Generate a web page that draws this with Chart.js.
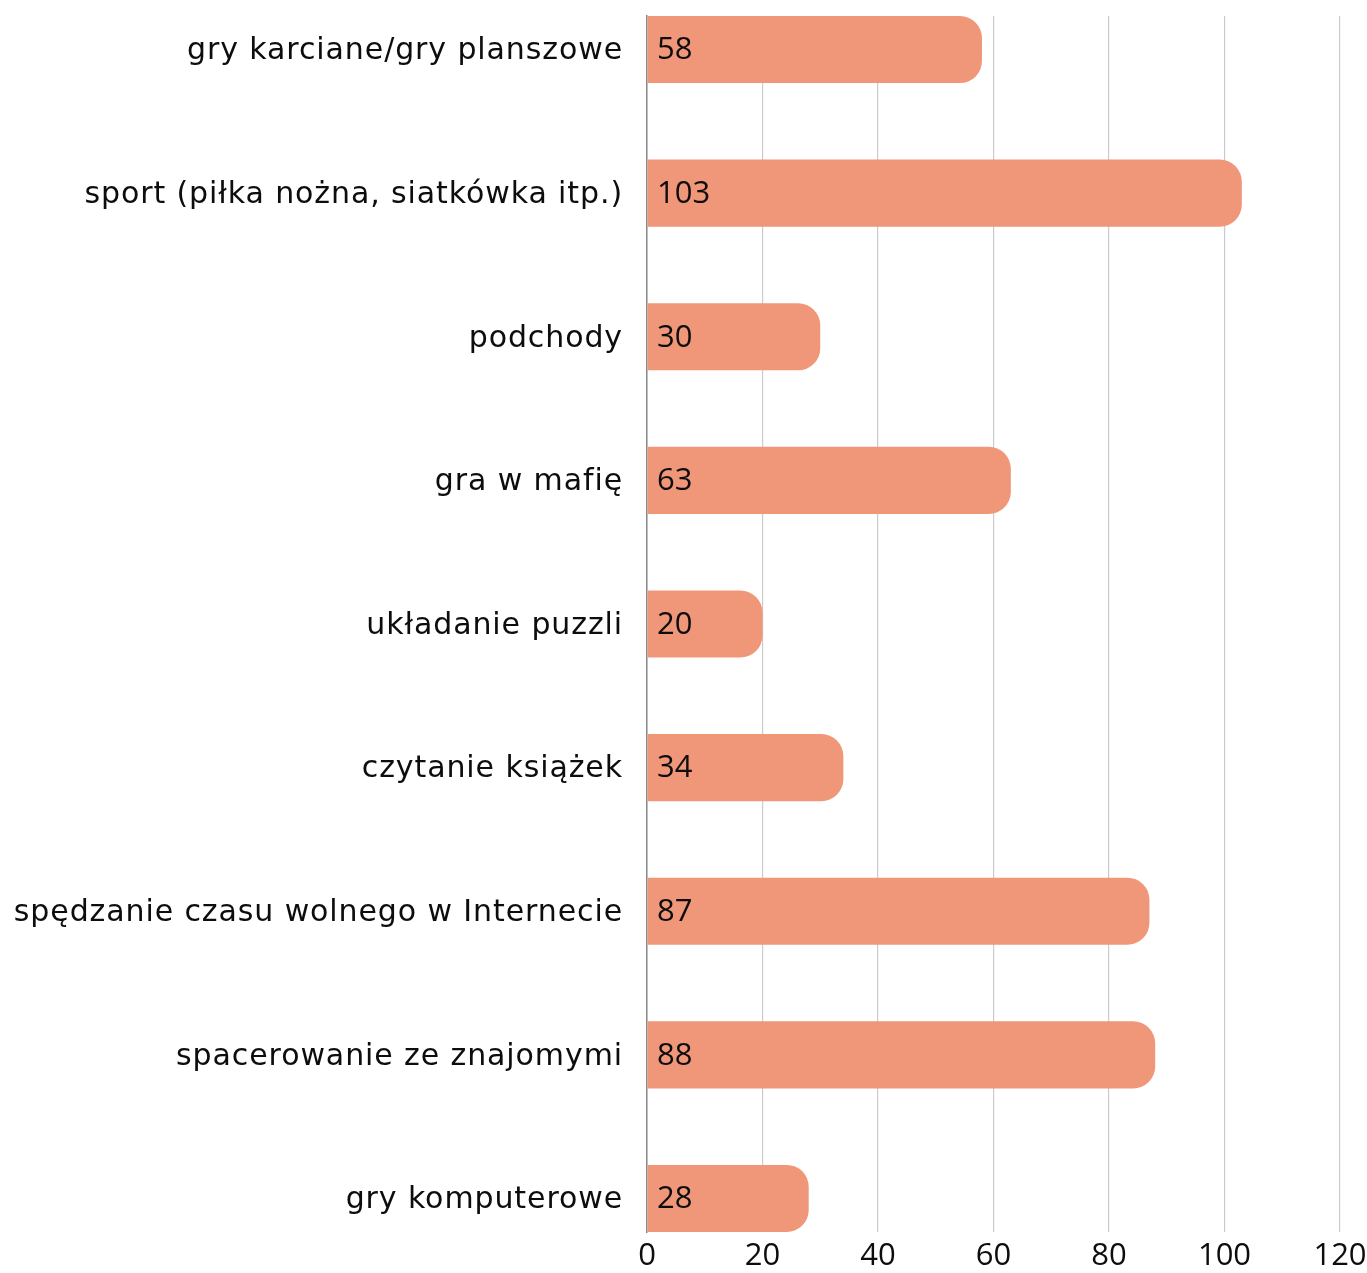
<!DOCTYPE html>
<html>
<head>
<meta charset="utf-8">
<script src="https://cdn.jsdelivr.net/npm/chart.js@4.4.1/dist/chart.umd.min.js"></script>
<style>
  html, body { margin: 0; padding: 0; background: #fff; }
  #wrap { width: 1367px; height: 1273px; position: relative; }
</style>
</head>
<body>
<div id="wrap"><canvas id="chart"></canvas></div>
<script>
// Free-time activities and how many people chose each one
const categories = [
  'gry karciane/gry planszowe',
  'sport (piłka nożna, siatkówka itp.)',
  'podchody',
  'gra w mafię',
  'układanie puzzli',
  'czytanie książek',
  'spędzanie czasu wolnego w Internecie',
  'spacerowanie ze znajomymi',
  'gry komputerowe'
];
const counts = [58, 103, 30, 63, 20, 34, 87, 88, 28];
const xTicks = [0, 20, 40, 60, 80, 100, 120];

const LABEL_FONT = "'DejaVu Sans', sans-serif";
const NUM_FONT = "'Open Sans', sans-serif";
const TEXT = '#0d0d0d';

// Writes each count inside its bar, near the base
const valueLabels = {
  id: 'valueLabels',
  afterDatasetsDraw(chart) {
    const { ctx } = chart;
    const meta = chart.getDatasetMeta(0);
    const xScale = chart.scales.x;
    ctx.save();
    ctx.font = `31px ${NUM_FONT}`;
    ctx.fillStyle = TEXT;
    ctx.textAlign = 'left';
    ctx.textBaseline = 'middle';
    meta.data.forEach((bar, i) => {
      ctx.fillText(String(counts[i]), xScale.getPixelForValue(0) + 10, bar.y + 1);
    });
    ctx.restore();
  }
};

// Slightly wider tracking for the category names on the y axis
const labelTracking = {
  id: 'labelTracking',
  beforeDraw(chart) {
    const y = chart.scales.y;
    if (y._tracked) return;
    const original = y.drawLabels.bind(y);
    y.drawLabels = (area) => {
      chart.ctx.save();
      chart.ctx.letterSpacing = '0.9px';
      original(area);
      chart.ctx.restore();
    };
    y._tracked = true;
  }
};

new Chart(document.getElementById('chart'), {
  type: 'bar',
  data: {
    datasets: [{
      data: counts.map((v, i) => ({ x: v, y: i })),
      backgroundColor: '#F09679',
      borderRadius: 22,
      borderSkipped: 'start',
      barPercentage: 0.467,
      categoryPercentage: 1
    }]
  },
  options: {
    indexAxis: 'y',
    responsive: true,
    maintainAspectRatio: false,
    animation: false,
    layout: { padding: { top: 16, left: 0, right: 0, bottom: 0 } },
    plugins: { legend: { display: false }, tooltip: { enabled: false } },
    scales: {
      x: {
        type: 'linear',
        min: xTicks[0],
        max: xTicks[xTicks.length - 1],
        afterBuildTicks(scale) { scale.ticks = xTicks.map(v => ({ value: v })); },
        afterFit(scale) {
          scale.height = 41;
          scale.paddingLeft = 0;
          scale.paddingRight = 27;
        },
        grid: { color: '#cbcbcb', lineWidth: 1.2, drawTicks: false },
        border: { display: false },
        ticks: { font: { family: NUM_FONT, size: 31 }, color: TEXT, padding: 6 }
      },
      y: {
        type: 'linear',
        reverse: true,
        offset: false,
        min: -0.2335,
        max: categories.length - 1 + 0.2335,
        afterBuildTicks(scale) { scale.ticks = categories.map((c, i) => ({ value: i })); },
        afterFit(scale) {
          scale.width = 647;
          scale.paddingTop = 0;
          scale.paddingBottom = 0;
        },
        grid: { display: false, drawTicks: false },
        border: { display: true, color: '#8a8a8a', width: 1.5 },
        ticks: {
          font: { family: LABEL_FONT, size: 30 },
          color: TEXT,
          padding: 24,
          labelOffset: 2,
          callback: (v) => categories[v]
        }
      }
    }
  },
  plugins: [valueLabels, labelTracking]
});
</script>
</body>
</html>
